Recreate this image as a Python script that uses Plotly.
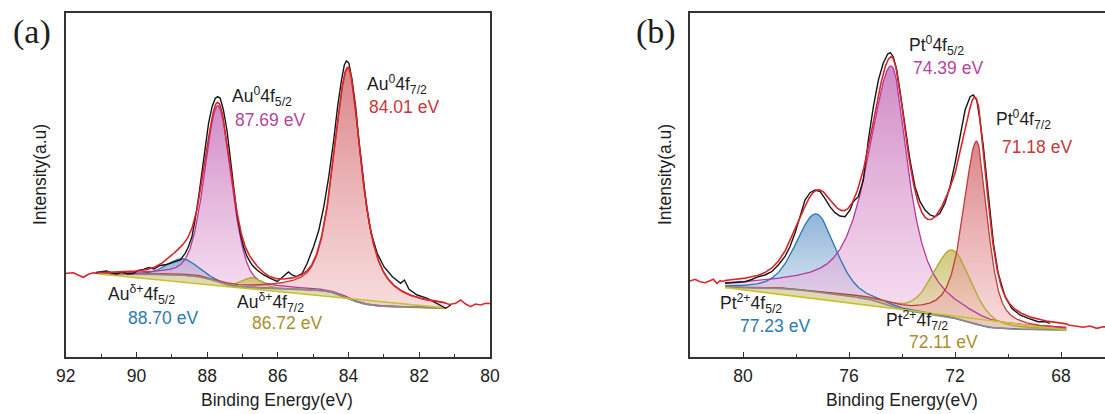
import numpy as np
import plotly.graph_objects as go

# ---------------- Au 4f (panel a) ----------------
au_names = ["Au<sup>0</sup>4f<sub>7/2</sub>", "Au<sup>0</sup>4f<sub>5/2</sub>",
            "Au<sup>δ+</sup>4f<sub>5/2</sub>", "Au<sup>δ+</sup>4f<sub>7/2</sub>"]
au_centers = [84.01, 87.69, 88.70, 86.72]
au_heights = [230.0, 176.0, 16.5, 10.5]
au_hw_left = [0.48, 0.45, 0.50, 0.35]
au_hw_right = [0.45, 0.45, 0.50, 0.35]
au_lor_left = [0.45, 0.30, 0.20, 0.20]
au_lor_right = [0.85, 0.30, 0.20, 0.20]
au_window = [81.25, 91.05]
au_bg_ends = [49.0, 83.0]

au_raw_be = [91.15, 91.0, 90.85, 90.7, 90.56, 90.42, 90.25, 90.09, 89.95, 89.8,
             89.65, 89.5, 89.33, 89.15, 89.0, 88.85, 88.76, 88.62, 88.53, 88.43,
             88.34, 88.24, 88.15, 88.05, 87.96, 87.86, 87.77, 87.70, 87.63, 87.54,
             87.44, 87.35, 87.25, 87.16, 87.06, 86.97, 86.87, 86.73, 86.59, 86.40,
             86.21, 86.02, 85.93, 85.80, 85.70, 85.60, 85.46, 85.31, 85.17, 84.99,
             84.84, 84.70, 84.56, 84.42, 84.31, 84.20, 84.12, 84.06, 83.99, 83.90,
             83.80, 83.71, 83.61, 83.49, 83.36, 83.19, 83.00, 82.76, 82.53, 82.42,
             82.29, 82.06, 81.77, 81.49, 81.25, 81.11]
au_raw_int = [84.5, 85.5, 86.0, 84.0, 83.0, 85.0, 83.0, 83.5, 86.5, 87.5,
              89.5, 88.0, 91.5, 92.5, 94.5, 96.5, 97.0, 103.7, 110.3, 120.3,
              137.0, 160.3, 183.7, 210.3, 233.7, 250.3, 258.7, 260.3, 258.7, 247.0,
              227.0, 200.3, 170.3, 143.7, 123.7, 110.3, 100.3, 92.0, 87.0, 82.0,
              78.7, 75.5, 78.0, 82.5, 85.0, 82.0, 80.3, 83.7, 93.7, 110.3,
              127.0, 150.3, 180.3, 217.0, 250.3, 277.0, 292.0, 296.0, 293.7, 277.0,
              250.3, 217.0, 183.7, 150.3, 123.7, 103.7, 90.3, 80.3, 73.7, 77.0,
              67.7, 62.0, 58.7, 53.7, 48.7, 52.0]

au_tail_hi_be = [92.0, 91.97, 91.78, 91.65, 91.5, 91.36, 91.22, 91.1]
au_tail_hi_int = [83.7, 83.7, 84.3, 82.0, 79.7, 82.7, 84.3, 83.7]
au_tail_lo_be = [81.15, 80.97, 80.83, 80.69, 80.55, 80.41, 80.27, 80.12, 80.0]
au_tail_lo_int = [52.5, 53.7, 57.0, 53.0, 50.3, 53.0, 52.0, 53.7, 53.5]

# ---------------- Pt 4f (panel b) ----------------
pt_names = ["Pt<sup>0</sup>4f<sub>7/2</sub>", "Pt<sup>0</sup>4f<sub>5/2</sub>",
            "Pt<sup>2+</sup>4f<sub>5/2</sub>", "Pt<sup>2+</sup>4f<sub>7/2</sub>"]
pt_centers = [71.18, 74.39, 77.23, 72.11]
pt_heights = [183.0, 240.0, 78.0, 68.0]
pt_hw_left = [0.60, 1.05, 0.90, 0.85]
pt_hw_right = [0.48, 0.75, 0.85, 0.85]
pt_lor_left = [0.60, 0.75, 0.30, 0.40]
pt_lor_right = [0.60, 0.90, 0.30, 0.40]
pt_window = [67.8, 80.68]
pt_bg_ends = [27.0, 69.5]

pt_raw_be = [80.68, 80.3, 79.92, 79.67, 79.42, 79.17, 78.92, 78.67, 78.42, 78.23,
             78.04, 77.85, 77.66, 77.47, 77.28, 77.09, 76.91, 76.72, 76.53, 76.34,
             76.15, 75.96, 75.84, 75.65, 75.46, 75.27, 75.08, 74.89, 74.71, 74.54,
             74.44, 74.33, 74.20, 74.08, 73.95, 73.82, 73.70, 73.51, 73.32, 73.13,
             72.94, 72.75, 72.57, 72.38, 72.19, 72.00, 71.81, 71.62, 71.43, 71.31,
             71.18, 71.06, 70.93, 70.80, 70.68, 70.55, 70.37, 70.11, 69.86, 69.55,
             69.23, 68.86, 68.60, 68.42]
pt_raw_int = [73.7, 74.5, 75.3, 77.5, 80.3, 82.0, 85.3, 92.0, 100.3, 110.3,
              123.7, 140.3, 157.0, 164.3, 167.0, 165.3, 158.7, 150.3, 144.3, 141.0,
              140.3, 147.0, 155.3, 160.3, 177.0, 217.0, 250.3, 277.0, 293.7, 303.0,
              304.3, 300.3, 287.0, 267.0, 243.7, 220.3, 197.0, 170.3, 155.3, 147.0,
              142.0, 140.3, 143.7, 153.7, 170.3, 193.7, 220.3, 247.0, 260.3, 262.0,
              257.0, 237.0, 210.3, 177.0, 143.7, 113.7, 83.7, 60.3, 48.7, 42.0,
              38.7, 35.3, 35.3, 33.7]

pt_tail_hi_be = [82.0, 81.81, 81.62, 81.43, 81.25, 81.12, 80.99, 80.86, 80.75]
pt_tail_hi_int = [76.0, 77.7, 75.3, 74.3, 76.3, 77.7, 73.7, 76.3, 75.5]
pt_tail_lo_be = [67.72, 67.55, 67.41, 67.16, 66.91, 66.65, 66.4, 66.3]
pt_tail_lo_int = [32.0, 31.0, 31.0, 29.7, 31.0, 28.7, 30.3, 30.0]

# component styles: line colour, gradient top, gradient bottom
comp_line = ["#c23b3b", "#b5399f", "#2676b8", "#b3a72a"]
comp_top = ["rgba(205,85,90,0.72)", "rgba(190,95,175,0.72)",
            "rgba(100,150,200,0.72)", "rgba(190,178,70,0.72)"]
comp_bot = ["rgba(242,190,192,0.55)", "rgba(242,200,232,0.55)",
            "rgba(215,230,245,0.55)", "rgba(232,224,170,0.55)"]
value_color = ["#c8373b", "#b5449f", "#2a7ab6", "#a88f2c"]
fill_order = [2, 1, 3, 0]

AX = "#333333"
SANS = "Liberation Sans, Arial, sans-serif"
SERIF = "Liberation Serif, Times New Roman, serif"
FS = 17.5


def gl_peak(e, c, h, wl, wr, ml, mr):
    """Asymmetric Gaussian-Lorentzian sum; the *l parameters act on the high-BE side."""
    hi = e >= c
    w = np.where(hi, wl, wr)
    m = np.where(hi, ml, mr)
    d2 = ((e - c) / w) ** 2
    return h * ((1 - m) * np.exp(-np.log(2) * d2) + m / (1 + d2))


def shirley(e, signal, lo, hi):
    cum = np.concatenate([[0.0], np.cumsum(0.5 * (signal[1:] + signal[:-1]) * np.diff(e))])
    return lo + (hi - lo) * cum / cum[-1]


fig = go.Figure()


def add_panel(xa, ya, centers, heights, hwl, hwr, mll, mrr, window, bg_ends,
              raw_be, raw_int, thi_be, thi_int, tlo_be, tlo_int):
    e = np.linspace(window[0], window[1], 700)
    peaks = [gl_peak(e, *p) for p in zip(centers, heights, hwl, hwr, mll, mrr)]
    total = np.sum(peaks, axis=0)
    bg = shirley(e, total, bg_ends[0], bg_ends[1])
    lin = np.interp(e, window, bg_ends)
    env = bg + total
    kw = dict(xaxis=xa, yaxis=ya, showlegend=False, hoverinfo="skip")
    ring = np.concatenate([e, e[::-1]])

    # band between linear and Shirley backgrounds
    fig.add_trace(go.Scatter(x=ring, y=np.concatenate([np.maximum(bg, lin), lin[::-1]]),
                             fill="toself", fillcolor="rgba(200,185,120,0.55)",
                             line=dict(width=0), mode="lines", **kw))
    fig.add_trace(go.Scatter(x=ring, y=np.concatenate([np.minimum(bg, lin), lin[::-1]]),
                             fill="toself", fillcolor="rgba(200,235,238,0.7)",
                             line=dict(width=0), mode="lines", **kw))

    # component areas with vertical gradient
    for i in fill_order:
        fig.add_trace(go.Scatter(
            x=ring, y=np.concatenate([bg + peaks[i], bg[::-1]]),
            fill="toself", mode="lines", line=dict(width=0),
            fillgradient=dict(type="vertical",
                              colorscale=[[0, comp_bot[i]], [1, comp_top[i]]]),
            **kw))
    for i in fill_order:
        fig.add_trace(go.Scatter(x=e, y=bg + peaks[i], mode="lines",
                                 line=dict(color=comp_line[i], width=1.3), **kw))

    fig.add_trace(go.Scatter(x=e, y=bg, mode="lines", line=dict(color="#8a8a8a", width=1.6), **kw))
    fig.add_trace(go.Scatter(x=e, y=lin, mode="lines", line=dict(color="#c9c12a", width=1.6), **kw))

    # measured spectrum
    fig.add_trace(go.Scatter(x=raw_be, y=raw_int, mode="lines",
                             line=dict(color="#151515", width=1.4), **kw))

    # fitted envelope joined with the measured edges outside the fit window
    x_red = np.concatenate([tlo_be, e, thi_be])
    y_red = np.concatenate([tlo_int, env, thi_int])
    order = np.argsort(x_red)
    fig.add_trace(go.Scatter(x=x_red[order], y=y_red[order], mode="lines",
                             line=dict(color="#d8262b", width=1.6), **kw))


add_panel("x", "y", au_centers, au_heights, au_hw_left, au_hw_right, au_lor_left, au_lor_right,
          au_window, au_bg_ends, au_raw_be, au_raw_int,
          au_tail_hi_be, au_tail_hi_int, au_tail_lo_be, au_tail_lo_int)
add_panel("x2", "y2", pt_centers, pt_heights, pt_hw_left, pt_hw_right, pt_lor_left, pt_lor_right,
          pt_window, pt_bg_ends, pt_raw_be, pt_raw_int,
          pt_tail_hi_be, pt_tail_hi_int, pt_tail_lo_be, pt_tail_lo_int)

W, H = 1105, 414


def px(x):
    return x / W


def py(y):
    return 1 - y / H


annotations = []


def label(text, x, y, color="#1e1e1e", size=FS, family=SANS, xanchor="left", angle=0):
    annotations.append(dict(text=text, x=px(x), y=py(y), xref="paper", yref="paper",
                            xanchor=xanchor, yanchor="middle", showarrow=False,
                            textangle=angle, font=dict(family=family, size=size, color=color)))


# peak labels: (name position), (value position)
au_pos = [((365, 84), (367, 107)), ((230, 96), (233, 120)),
          ((106, 294), (126, 318)), ((235, 302), (250, 323))]
pt_pos = [((994, 120), (1000, 147)), ((907, 45), (911, 68)),
          ((718, 303), (738, 326)), ((884, 320), (907, 342))]
for names, centers, pos in [(au_names, au_centers, au_pos), (pt_names, pt_centers, pt_pos)]:
    for i in range(4):
        (nx, ny), (vx, vy) = pos[i]
        label(names[i], nx, ny)
        label(f"{centers[i]:.2f} eV", vx, vy, color=value_color[i])

label("(a)", 32, 32, size=34, family=SERIF, xanchor="center")
label("(b)", 656, 32, size=34, family=SERIF, xanchor="center")
label("Intensity(a.u)", 40, 175, size=FS, xanchor="center", angle=-90)
label("Intensity(a.u)", 665, 175, size=FS, xanchor="center", angle=-90)
label("Binding Energy(eV)", 277, 400, size=FS, xanchor="center")
label("Binding Energy(eV)", 902, 400, size=FS, xanchor="center")

ydom = [1 - 356.7 / H, 1 - 13.3 / H]
xcommon = dict(showline=True, linecolor=AX, linewidth=1.6, mirror=True, ticks="inside",
               ticklen=5, tickwidth=1.3, tickcolor=AX, showgrid=False, zeroline=False,
               automargin=False, ticklabelstandoff=2,
               tickfont=dict(family=SANS, size=FS, color="#222222"))
ycommon = dict(showline=True, linecolor=AX, linewidth=1.6, ticks="", showticklabels=False,
               showgrid=False, zeroline=False, automargin=False, range=[0.3, 343.7], domain=ydom)

fig.update_layout(
    width=W, height=H, margin=dict(l=0, r=0, t=0, b=0),
    paper_bgcolor="white", plot_bgcolor="white", template="none",
    xaxis=dict(domain=[65.7 / W, 490 / W], range=[92, 80], anchor="y", dtick=2, tick0=80,
               minor=dict(ticks="inside", ticklen=3, dtick=1, tickcolor=AX, tickwidth=1),
               **xcommon),
    yaxis=dict(anchor="x", mirror=True, **ycommon),
    xaxis2=dict(domain=[690 / W, 1.0], range=[82, 66.34], anchor="y2", dtick=4, tick0=68,
                minor=dict(ticks="inside", ticklen=3, dtick=2, tickcolor=AX, tickwidth=1),
                **xcommon),
    yaxis2=dict(anchor="x2", mirror=False, **ycommon),
    annotations=annotations,
)

fig.write_html("out.html")
